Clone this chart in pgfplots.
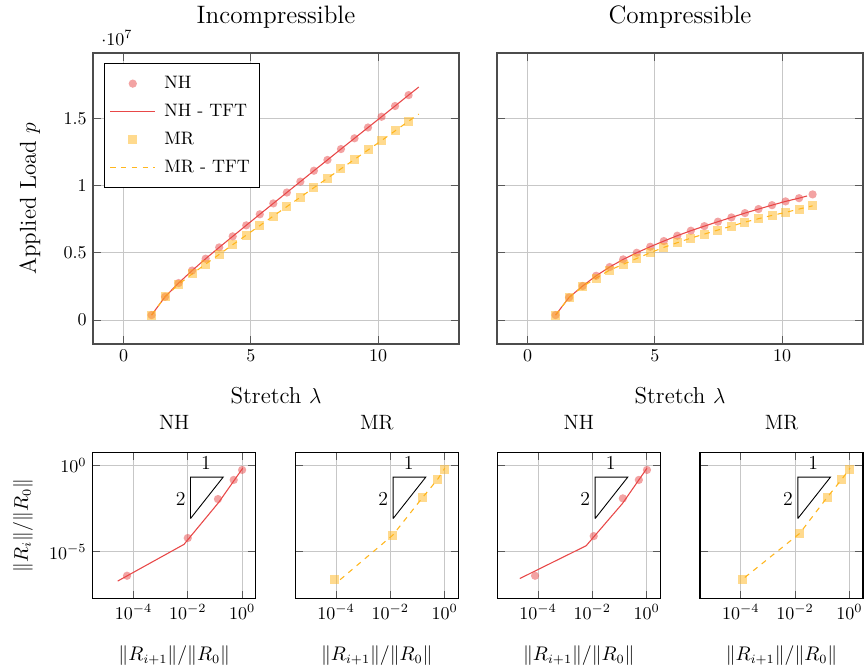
\documentclass[border=0pt]{standalone}
\usepackage{pgfplots}
\usepackage{pgfplotstable}
\pgfplotsset{compat=1.18}
\definecolor{nhred}{RGB}{232,72,72}
\definecolor{mrorange}{RGB}{255,182,30}

\pgfplotstableread{
x nhI mrI nhC mrC
1.100 3.7e5 3.7e5 3.7e5 3.7e5
1.632 1.73e6 1.73e6 1.68e6 1.68e6
2.163 2.75e6 2.65e6 2.53e6 2.48e6
2.695 3.68e6 3.43e6 3.29e6 3.12e6
3.226 4.56e6 4.16e6 3.94e6 3.71e6
3.758 5.40e6 4.88e6 4.51e6 4.14e6
4.289 6.22e6 5.60e6 5.00e6 4.58e6
4.821 7.04e6 6.31e6 5.45e6 5.00e6
5.353 7.86e6 7.02e6 5.87e6 5.40e6
5.884 8.67e6 7.73e6 6.27e6 5.75e6
6.416 9.48e6 8.43e6 6.64e6 6.09e6
6.947 1.029e7 9.13e6 6.98e6 6.39e6
7.479 1.110e7 9.84e6 7.31e6 6.69e6
8.011 1.190e7 1.054e7 7.63e6 6.98e6
8.542 1.271e7 1.124e7 7.95e6 7.28e6
9.074 1.351e7 1.194e7 8.25e6 7.53e6
9.605 1.431e7 1.264e7 8.54e6 7.78e6
10.137 1.511e7 1.334e7 8.82e6 8.00e6
10.668 1.591e7 1.406e7 9.06e6 8.25e6
11.200 1.672e7 1.478e7 9.34e6 8.49e6
}\loaddata

\pgfplotsset{
  common/.style={
    scale only axis,
    grid=major,
    major grid style={black!22, line width=0.5pt},
    tick style={black!65, line width=0.5pt},
    tick label style={font=\fontsize{10}{12}\selectfont},
    legend image code/.code={\draw[mark repeat=2,mark phase=2,##1] plot coordinates {(0pt,0pt) (12.5pt,0pt) (25pt,0pt)};},
  },
  topax/.style={common,
    width=203.33pt, height=161.67pt,
    axis line style={black!70, line width=0.7pt},
    xmin=-1.2, xmax=13.18, ymin=-1.78e6, ymax=1.985e7,
    xtick={0,5,10}, ytick={0,5e6,1e7,1.5e7},
    every axis title/.style={at={(0.5,1.0997)}, anchor=base, font=\fontsize{14}{17}\selectfont},
    every axis x label/.style={at={(0.5,-0.206)}, anchor=base, font=\fontsize{12.8}{15}\selectfont},
    every axis y label/.style={at={(-0.156,0.5)}, rotate=90, anchor=base, font=\fontsize{12.8}{15}\selectfont},
    every y tick scale label/.style={at={(rel axis cs:0,1)}, anchor=base west, inner sep=0pt, xshift=4.5pt, yshift=4.4pt, font=\fontsize{10}{12}\selectfont},
    xlabel={Stretch $\lambda$},
  },
  botax/.style={common,
    width=90.56pt, height=80.89pt,
    axis line style={black, line width=0.6pt},
    xmin=3.162e-6, xmax=3.162, ymin=2e-8, ymax=5.62,
    xtick={1e-4,1e-2,1}, ytick={1e-5,1},
    xminorticks=false, yminorticks=false,
    every axis title/.style={at={(0.5,1.161)}, anchor=base, font=\fontsize{11.5}{14}\selectfont},
    every axis x label/.style={at={(0.5,-0.428)}, anchor=base, font=\fontsize{10.5}{13}\selectfont},
    every axis y label/.style={at={(-0.397,0.5)}, rotate=90, anchor=base, font=\fontsize{10.5}{13}\selectfont},
    xlabel={$\|R_{i+1}\|/\|R_0\|$},
  },
  nhm/.style={only marks, mark=*, mark size=2.3pt, color=nhred, opacity=0.5, mark options={draw opacity=0}},
  nhl/.style={color=nhred, line width=0.6pt, mark=none},
  mrm/.style={only marks, mark=square*, mark size=2.5pt, color=mrorange, opacity=0.5, mark options={draw opacity=0}},
  mrl/.style={color=mrorange, line width=0.6pt, dashed, mark=none},
  tri/.style={black, line width=0.5pt, mark=none, forget plot},
}

\begin{document}
\begin{tikzpicture}
% ---------------- top left: incompressible
\begin{axis}[topax, at={(51.67pt,-29.44pt)}, anchor=north west,
  title={Incompressible}, ylabel={Applied Load $p$},
  legend style={at={(0.03,0.965)}, anchor=north west, draw=black, fill=white,
    font=\fontsize{10}{12}\selectfont, inner xsep=3pt, inner ysep=5pt, row sep=3.2pt, column sep=2.8pt},
  legend cell align=left]
\addplot[nhm] table[x=x, y=nhI] {\loaddata};
\addlegendentry{NH}
\addplot[nhl] coordinates {(1.100,3.7e5) (1.632,1.73e6) (2.163,2.75e6) (2.695,3.68e6) (3.226,4.56e6) (3.758,5.40e6) (4.289,6.22e6) (4.821,7.04e6) (5.353,7.86e6) (5.884,8.67e6) (6.416,9.48e6) (6.947,1.029e7) (7.479,1.110e7) (8.011,1.190e7) (8.542,1.271e7) (9.074,1.351e7) (9.605,1.431e7) (10.137,1.511e7) (10.668,1.591e7) (11.200,1.672e7) (11.6,1.732e7)};
\addlegendentry{NH - TFT}
\addplot[mrm] table[x=x, y=mrI] {\loaddata};
\addlegendentry{MR}
\addplot[mrl] coordinates {(1.100,3.7e5) (1.632,1.73e6) (2.163,2.65e6) (2.695,3.43e6) (3.226,4.16e6) (3.758,4.88e6) (4.289,5.60e6) (4.821,6.31e6) (5.353,7.02e6) (5.884,7.73e6) (6.416,8.43e6) (6.947,9.13e6) (7.479,9.84e6) (8.011,1.054e7) (8.542,1.124e7) (9.074,1.194e7) (9.605,1.264e7) (10.137,1.334e7) (10.668,1.406e7) (11.200,1.478e7) (11.6,1.531e7)};
\addlegendentry{MR - TFT}
\end{axis}

% ---------------- top right: compressible
\begin{axis}[topax, at={(276.11pt,-29.44pt)}, anchor=north west,
  title={Compressible}, scaled y ticks=false, yticklabels={}]
\addplot[nhm] table[x=x, y=nhC] {\loaddata};
\addplot[nhl] coordinates {(1.100,3.7e5) (1.632,1.68e6) (2.163,2.53e6) (2.695,3.29e6) (3.226,3.94e6) (3.758,4.51e6) (4.289,5.00e6) (4.821,5.45e6) (5.353,5.87e6) (5.884,6.27e6) (6.416,6.64e6) (6.947,6.98e6) (7.479,7.31e6) (8.011,7.63e6) (8.542,7.95e6) (9.074,8.25e6) (9.605,8.54e6) (10.137,8.82e6) (10.668,9.06e6) (10.98,9.22e6)};
\addplot[mrm] table[x=x, y=mrC] {\loaddata};
\addplot[mrl] table[x=x, y=mrC] {\loaddata};
\end{axis}

% ---------------- bottom 1: NH incompressible
\begin{loglogaxis}[botax, at={(51.5pt,-251.5pt)}, anchor=north west,
  title={NH}, ylabel={$\|R_i\|/\|R_0\|$}]
\addplot[nhm] coordinates {(5.82e-5,4.07e-7) (1.0e-2,6.31e-5) (0.129,1.15e-2) (0.49,0.148) (1.0,0.562)};
\addplot[nhl] coordinates {(2.63e-5,2.0e-7) (7.24e-3,2.69e-5) (0.138,7.41e-3) (1.05,0.708)};
\addplot[tri] coordinates {(0.0126,8.5e-4) (0.0126,0.214) (0.2,0.214) (0.0126,8.5e-4)};
\node[font=\fontsize{11}{13}\selectfont] at (axis cs:0.0468,1.38) {1};
\node[font=\fontsize{11}{13}\selectfont] at (axis cs:0.0055,0.0115) {2};
\end{loglogaxis}

% ---------------- bottom 2: MR incompressible
\begin{loglogaxis}[botax, at={(164.06pt,-251.5pt)}, anchor=north west,
  title={MR}, yticklabels={}]
\addplot[mrm] coordinates {(8.51e-5,2.57e-7) (1.23e-2,9.33e-5) (0.151,1.38e-2) (0.55,0.162) (1.0,0.562)};
\addplot[mrl] coordinates {(1.41e-4,2.4e-7) (1.23e-2,9.33e-5) (0.151,1.38e-2) (0.55,0.162) (1.0,0.708)};
\addplot[tri] coordinates {(0.0126,8.5e-4) (0.0126,0.214) (0.2,0.214) (0.0126,8.5e-4)};
\node[font=\fontsize{11}{13}\selectfont] at (axis cs:0.0468,1.38) {1};
\node[font=\fontsize{11}{13}\selectfont] at (axis cs:0.0055,0.0115) {2};
\end{loglogaxis}

% ---------------- bottom 3: NH compressible
\begin{loglogaxis}[botax, at={(276.28pt,-251.5pt)}, anchor=north west,
  title={NH}, yticklabels={}]
\addplot[nhm] coordinates {(7.76e-5,4.07e-7) (1.12e-2,8.13e-5) (0.132,1.26e-2) (0.513,0.148) (1.02,0.562)};
\addplot[nhl] coordinates {(2.14e-5,2.82e-7) (5.89e-3,2.24e-5) (0.129,6.46e-3) (1.02,0.708)};
\addplot[tri] coordinates {(0.0126,8.5e-4) (0.0126,0.214) (0.2,0.214) (0.0126,8.5e-4)};
\node[font=\fontsize{11}{13}\selectfont] at (axis cs:0.0468,1.38) {1};
\node[font=\fontsize{11}{13}\selectfont] at (axis cs:0.0055,0.0115) {2};
\end{loglogaxis}

% ---------------- bottom 4: MR compressible
\begin{loglogaxis}[botax, at={(388.89pt,-251.5pt)}, anchor=north west,
  title={MR}, yticklabels={}]
\addplot[mrm] coordinates {(1.15e-4,2.57e-7) (1.48e-2,1.17e-4) (0.155,1.51e-2) (0.525,0.162) (1.0,0.617)};
\addplot[mrl] coordinates {(1.41e-4,3.24e-7) (1.48e-2,1.17e-4) (0.155,1.51e-2) (0.525,0.162) (1.05,0.708)};
\addplot[tri] coordinates {(0.0126,8.5e-4) (0.0126,0.214) (0.2,0.214) (0.0126,8.5e-4)};
\node[font=\fontsize{11}{13}\selectfont] at (axis cs:0.0468,1.38) {1};
\node[font=\fontsize{11}{13}\selectfont] at (axis cs:0.0055,0.0115) {2};
\end{loglogaxis}

\pgfresetboundingbox
\path (0pt,0pt) rectangle (480pt,-371.67pt);
\end{tikzpicture}
\end{document}
